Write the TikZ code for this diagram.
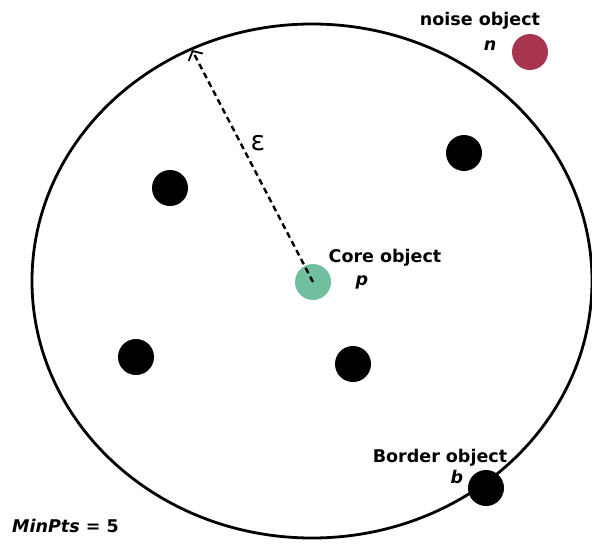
\documentclass[tikz,border=0pt]{standalone}
\usepackage{fontspec}
\setmainfont{DejaVu Sans}
\usetikzlibrary{arrows.meta}
\definecolor{noisered}{HTML}{A8344F}
\definecolor{coregreen}{HTML}{70C0A0}
\tikzset{
  pt/.style={circle, fill=black, draw=none, minimum size=36pt, inner sep=0pt},
  lbl/.style={font=\fontsize{17.5}{20}\selectfont\bfseries, inner sep=0pt, anchor=base},
  var/.style={font=\fontsize{17.5}{20}\selectfont\bfseries\itshape, inner sep=0pt, anchor=base},
  radius line/.style={dashed, dash pattern=on 6pt off 4pt, line width=2.4pt, -{Straight Barb[length=7pt,width=16pt,line width=1.8pt]}},
}
\begin{document}
\begin{tikzpicture}[x=1pt,y=-1pt]
\useasboundingbox (0,0) rectangle (592,544);
% neighbourhood
\draw[line width=2.8pt] (312,281) ellipse [x radius=280, y radius=257];
\coordinate (tip) at (192,50);
% points
\node[pt] (d1) at (170,188) {};
\node[pt] (d2) at (464,153) {};
\node[pt] (d3) at (136,357) {};
\node[pt] (d4) at (353,364) {};
\node[pt] (b) at (486,488) {};
\node[pt, fill=coregreen] (p) at (313,282) {};
\node[pt, fill=noisered] (n) at (530,52) {};
% radius
\draw[radius line] (p.center) -- (tip);
\node[font=\fontsize{27}{30}\selectfont, inner sep=0pt] (eps) at (258,143) {ε};
% labels
\node[lbl] (nlbl) at (480,25) {noise object};
\node[var] (nvar) at (490,50) {n};
\node[lbl] (plbl) at (385,262) {Core object};
\node[var] (pvar) at (362,285) {p};
\node[lbl] (blbl) at (440,462) {Border object};
\node[var] (bvar) at (457,483) {b};
\node[lbl, anchor=base west] (minpts) at (12,532) {\itshape MinPts\upshape\ = 5};
\end{tikzpicture}
\end{document}
